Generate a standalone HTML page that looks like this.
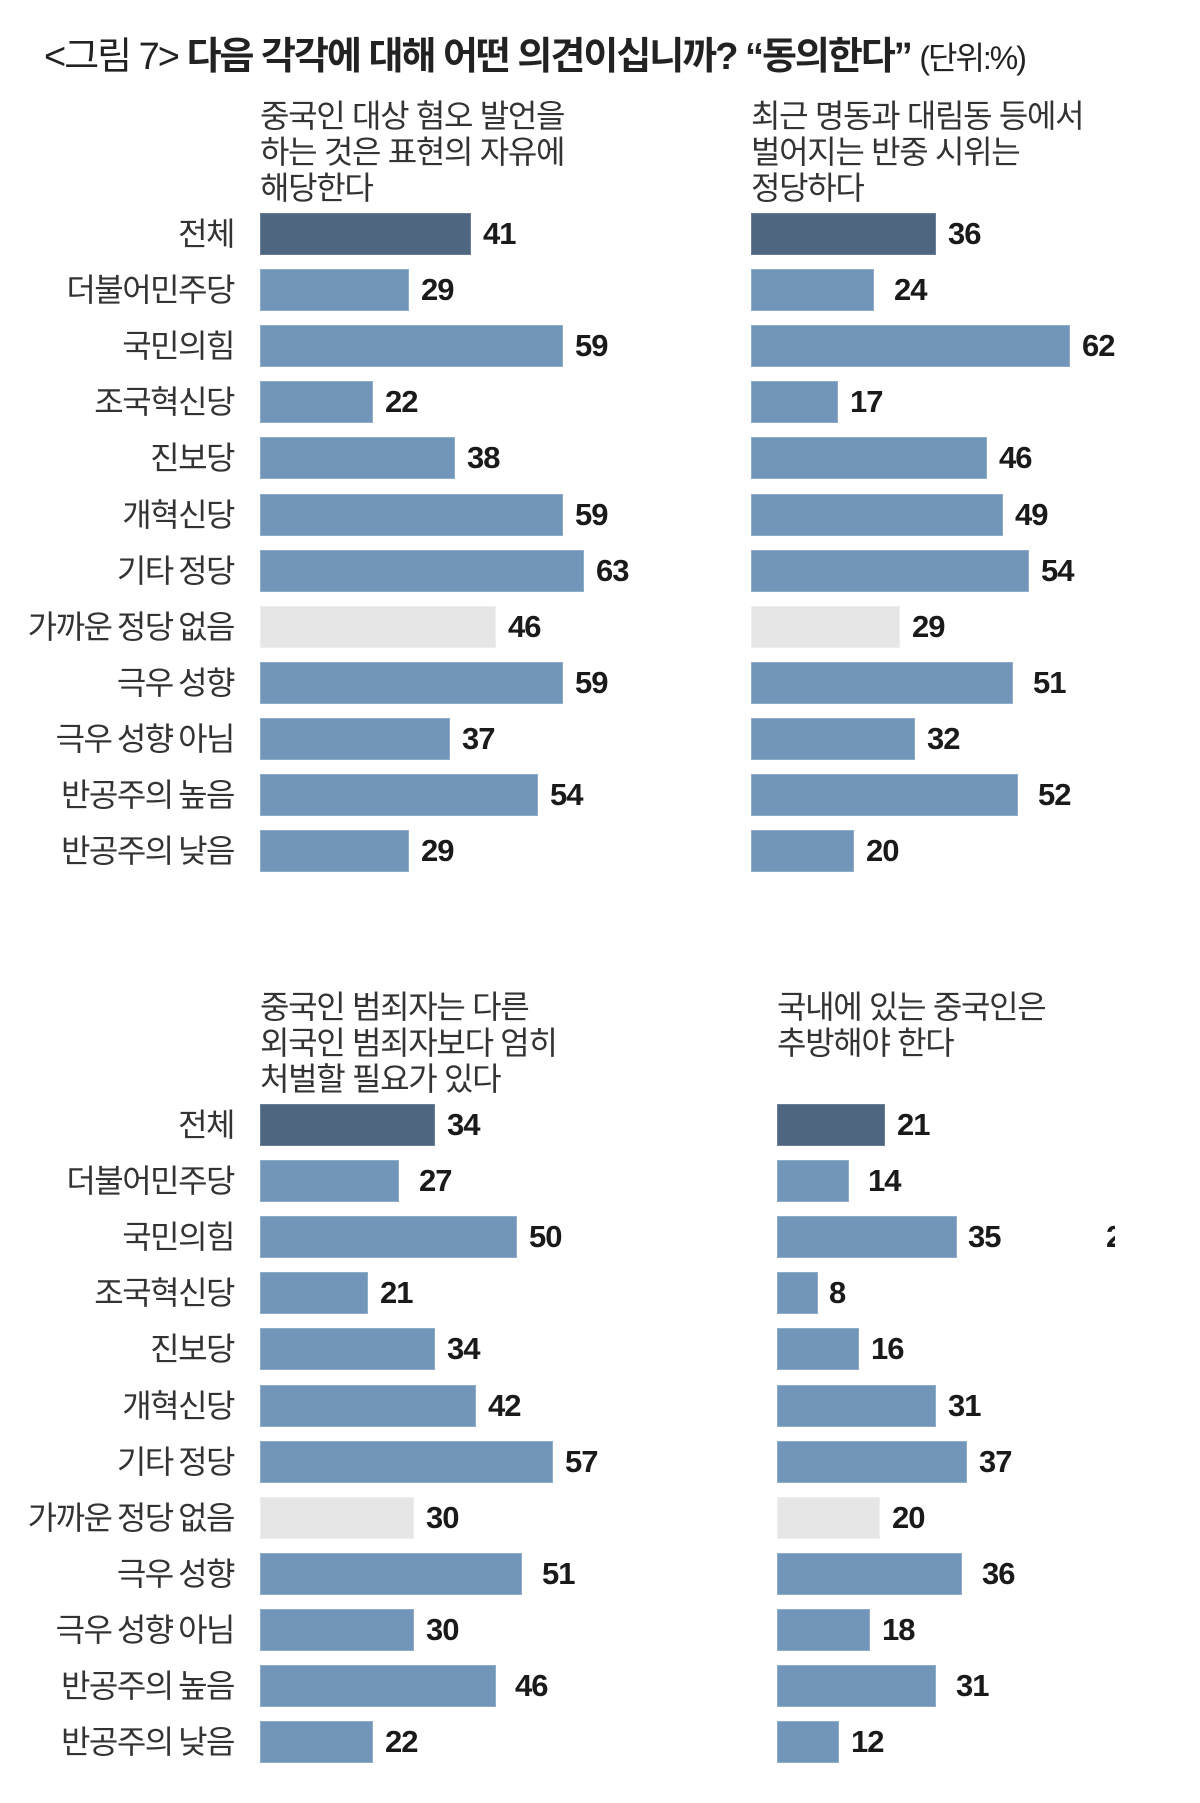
<!DOCTYPE html>
<html><head><meta charset="utf-8"><style>
body{margin:0;background:#fff;width:1200px;height:1803px;position:relative;overflow:hidden;font-family:"Liberation Sans","Noto Sans CJK KR",sans-serif;color:#222}
.t{position:absolute;left:44px;top:25px;font-size:38px;letter-spacing:-2px;white-space:nowrap}
.h{position:absolute;font-size:32px;line-height:36px;letter-spacing:-1.3px;white-space:nowrap;color:#333}
.l{position:absolute;right:966px;height:43px;line-height:43px;font-size:32px;letter-spacing:-1.5px;word-spacing:-2px;white-space:nowrap;color:#333}
.b{position:absolute;height:42px;background:#7296b9;border:1px solid #8fadc9;box-sizing:border-box}
.d{background:#4e6680;border-color:#6a7f95}
.g{background:#e6e6e6;border-color:#eee}
.v{position:absolute;height:43px;line-height:43px;font-size:31px;font-weight:bold;color:#1a1a1a;letter-spacing:-1px}
</style></head><body>
<div class="t">&lt;그림 7&gt; <b>다음 각각에 대해 어떤 의견이십니까? “동의한다”</b> <span style="font-size:32px">(단위:%)</span></div>

<div class="h" style="left:260px;top:98px">중국인 대상 혐오 발언을<br>하는 것은 표현의 자유에<br>해당한다</div>
<div class="h" style="left:751px;top:98px">최근 명동과 대림동 등에서<br>벌어지는 반중 시위는<br>정당하다</div>
<div class="h" style="left:260px;top:989px">중국인 범죄자는 다른<br>외국인 범죄자보다 엄히<br>처벌할 필요가 있다</div>
<div class="h" style="left:777px;top:989px">국내에 있는 중국인은<br>추방해야 한다</div>

<div class="l" style="top:213px">전체</div>
<div class="l" style="top:269px">더불어민주당</div>
<div class="l" style="top:325px">국민의힘</div>
<div class="l" style="top:381px">조국혁신당</div>
<div class="l" style="top:437px">진보당</div>
<div class="l" style="top:494px">개혁신당</div>
<div class="l" style="top:550px">기타 정당</div>
<div class="l" style="top:606px">가까운 정당 없음</div>
<div class="l" style="top:662px">극우 성향</div>
<div class="l" style="top:718px">극우 성향 아님</div>
<div class="l" style="top:774px">반공주의 높음</div>
<div class="l" style="top:830px">반공주의 낮음</div>
<div class="l" style="top:1104px">전체</div>
<div class="l" style="top:1160px">더불어민주당</div>
<div class="l" style="top:1216px">국민의힘</div>
<div class="l" style="top:1272px">조국혁신당</div>
<div class="l" style="top:1328px">진보당</div>
<div class="l" style="top:1385px">개혁신당</div>
<div class="l" style="top:1441px">기타 정당</div>
<div class="l" style="top:1497px">가까운 정당 없음</div>
<div class="l" style="top:1553px">극우 성향</div>
<div class="l" style="top:1609px">극우 성향 아님</div>
<div class="l" style="top:1665px">반공주의 높음</div>
<div class="l" style="top:1721px">반공주의 낮음</div>

<div class="b d" style="left:260px;top:213px;width:211px"></div><div class="v" style="left:483px;top:212px">41</div>
<div class="b" style="left:260px;top:269px;width:149px"></div><div class="v" style="left:421px;top:268px">29</div>
<div class="b" style="left:260px;top:325px;width:303px"></div><div class="v" style="left:575px;top:324px">59</div>
<div class="b" style="left:260px;top:381px;width:113px"></div><div class="v" style="left:385px;top:380px">22</div>
<div class="b" style="left:260px;top:437px;width:195px"></div><div class="v" style="left:467px;top:436px">38</div>
<div class="b" style="left:260px;top:494px;width:303px"></div><div class="v" style="left:575px;top:493px">59</div>
<div class="b" style="left:260px;top:550px;width:324px"></div><div class="v" style="left:596px;top:549px">63</div>
<div class="b g" style="left:260px;top:606px;width:236px"></div><div class="v" style="left:508px;top:605px">46</div>
<div class="b" style="left:260px;top:662px;width:303px"></div><div class="v" style="left:575px;top:661px">59</div>
<div class="b" style="left:260px;top:718px;width:190px"></div><div class="v" style="left:462px;top:717px">37</div>
<div class="b" style="left:260px;top:774px;width:278px"></div><div class="v" style="left:550px;top:773px">54</div>
<div class="b" style="left:260px;top:830px;width:149px"></div><div class="v" style="left:421px;top:829px">29</div>

<div class="b d" style="left:751px;top:213px;width:185px"></div><div class="v" style="left:948px;top:212px">36</div>
<div class="b" style="left:751px;top:269px;width:123px"></div><div class="v" style="left:894px;top:268px">24</div>
<div class="b" style="left:751px;top:325px;width:319px"></div><div class="v" style="left:1082px;top:324px">62</div>
<div class="b" style="left:751px;top:381px;width:87px"></div><div class="v" style="left:850px;top:380px">17</div>
<div class="b" style="left:751px;top:437px;width:236px"></div><div class="v" style="left:999px;top:436px">46</div>
<div class="b" style="left:751px;top:494px;width:252px"></div><div class="v" style="left:1015px;top:493px">49</div>
<div class="b" style="left:751px;top:550px;width:278px"></div><div class="v" style="left:1041px;top:549px">54</div>
<div class="b g" style="left:751px;top:606px;width:149px"></div><div class="v" style="left:912px;top:605px">29</div>
<div class="b" style="left:751px;top:662px;width:262px"></div><div class="v" style="left:1033px;top:661px">51</div>
<div class="b" style="left:751px;top:718px;width:164px"></div><div class="v" style="left:927px;top:717px">32</div>
<div class="b" style="left:751px;top:774px;width:267px"></div><div class="v" style="left:1038px;top:773px">52</div>
<div class="b" style="left:751px;top:830px;width:103px"></div><div class="v" style="left:866px;top:829px">20</div>

<div class="b d" style="left:260px;top:1104px;width:175px"></div><div class="v" style="left:447px;top:1103px">34</div>
<div class="b" style="left:260px;top:1160px;width:139px"></div><div class="v" style="left:419px;top:1159px">27</div>
<div class="b" style="left:260px;top:1216px;width:257px"></div><div class="v" style="left:529px;top:1215px">50</div>
<div class="b" style="left:260px;top:1272px;width:108px"></div><div class="v" style="left:380px;top:1271px">21</div>
<div class="b" style="left:260px;top:1328px;width:175px"></div><div class="v" style="left:447px;top:1327px">34</div>
<div class="b" style="left:260px;top:1385px;width:216px"></div><div class="v" style="left:488px;top:1384px">42</div>
<div class="b" style="left:260px;top:1441px;width:293px"></div><div class="v" style="left:565px;top:1440px">57</div>
<div class="b g" style="left:260px;top:1497px;width:154px"></div><div class="v" style="left:426px;top:1496px">30</div>
<div class="b" style="left:260px;top:1553px;width:262px"></div><div class="v" style="left:542px;top:1552px">51</div>
<div class="b" style="left:260px;top:1609px;width:154px"></div><div class="v" style="left:426px;top:1608px">30</div>
<div class="b" style="left:260px;top:1665px;width:236px"></div><div class="v" style="left:515px;top:1664px">46</div>
<div class="b" style="left:260px;top:1721px;width:113px"></div><div class="v" style="left:385px;top:1720px">22</div>

<div class="b d" style="left:777px;top:1104px;width:108px"></div><div class="v" style="left:897px;top:1103px">21</div>
<div class="b" style="left:777px;top:1160px;width:72px"></div><div class="v" style="left:868px;top:1159px">14</div>
<div class="b" style="left:777px;top:1216px;width:180px"></div><div class="v" style="left:968px;top:1215px">35</div>
<div class="v" style="left:1106px;top:1215px;width:9px;overflow:hidden">2</div>
<div class="b" style="left:777px;top:1272px;width:41px"></div><div class="v" style="left:829px;top:1271px">8</div>
<div class="b" style="left:777px;top:1328px;width:82px"></div><div class="v" style="left:871px;top:1327px">16</div>
<div class="b" style="left:777px;top:1385px;width:159px"></div><div class="v" style="left:948px;top:1384px">31</div>
<div class="b" style="left:777px;top:1441px;width:190px"></div><div class="v" style="left:979px;top:1440px">37</div>
<div class="b g" style="left:777px;top:1497px;width:103px"></div><div class="v" style="left:892px;top:1496px">20</div>
<div class="b" style="left:777px;top:1553px;width:185px"></div><div class="v" style="left:982px;top:1552px">36</div>
<div class="b" style="left:777px;top:1609px;width:93px"></div><div class="v" style="left:882px;top:1608px">18</div>
<div class="b" style="left:777px;top:1665px;width:159px"></div><div class="v" style="left:956px;top:1664px">31</div>
<div class="b" style="left:777px;top:1721px;width:62px"></div><div class="v" style="left:851px;top:1720px">12</div>
</body></html>
